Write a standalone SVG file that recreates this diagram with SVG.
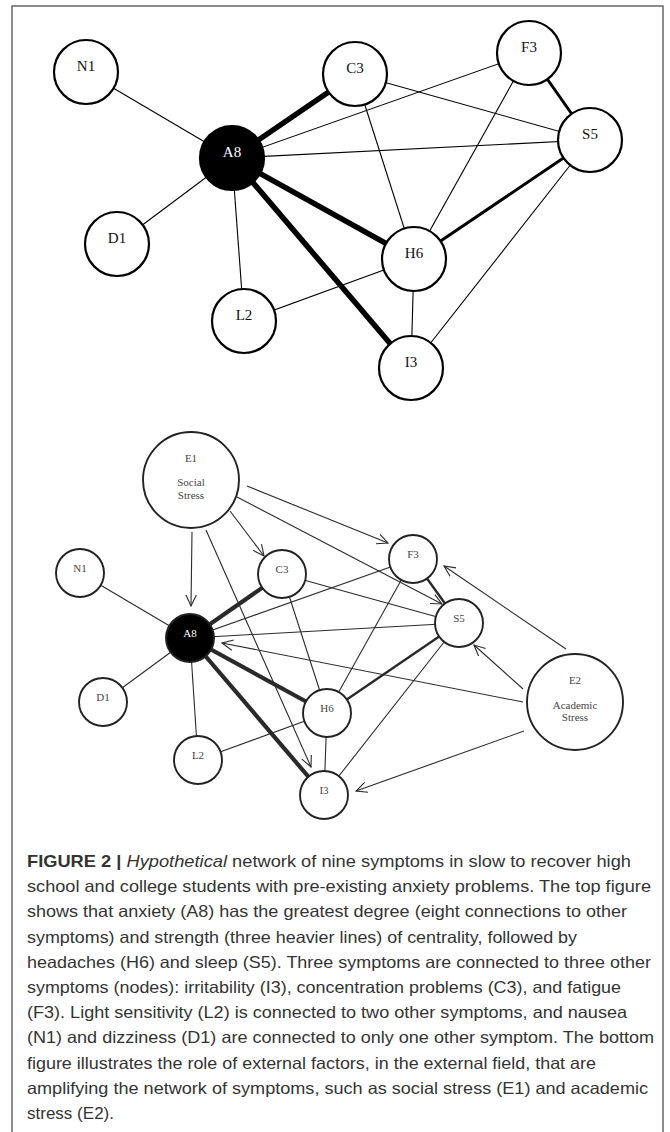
<svg xmlns="http://www.w3.org/2000/svg" width="670" height="1132" viewBox="0 0 670 1132">
<style>
.t1 line{stroke:#000;stroke-linecap:butt}
.thin{stroke-width:1.1}
.med{stroke-width:3}
.thk{stroke-width:5.5}
.n1 circle{fill:#fff;stroke:#000;stroke-width:2.2}
.n1 text{font-family:"Liberation Serif",serif;font-size:15px;text-anchor:middle;fill:#111}
.t2 line{stroke:#2a2a2a}
.thin2{stroke-width:1.1}
.med2{stroke-width:2.4}
.thk2{stroke-width:4.2}
.arw{stroke-width:1.1;marker-end:url(#arr)}
.n2 circle{fill:#fff;stroke:#222;stroke-width:1.9}
.n2 text{font-family:"Liberation Serif",serif;font-size:11px;text-anchor:middle;fill:#444}
.cap{font-family:"Liberation Sans",Arial,sans-serif;font-size:16.5px;fill:#333}
</style>
<defs>
<marker id="arr" markerUnits="userSpaceOnUse" markerWidth="14" markerHeight="14" refX="11" refY="6" orient="auto" viewBox="0 0 14 12">
<path d="M0,0.8 L11,6 L0,11.2" fill="none" stroke="#2a2a2a" stroke-width="1.1"/>
</marker>
</defs>
<rect width="670" height="1132" fill="#fff"/>
<path d="M12,1134 V6 H663 V1134" fill="none" stroke="#666" stroke-width="1.5"/>

<!-- TOP DIAGRAM -->
<g id="top-connectors" class="t1">
<line class="thin" x1="232" y1="158" x2="86" y2="72"/>
<line class="thin" x1="232" y1="158" x2="117" y2="244"/>
<line class="thin" x1="232" y1="158" x2="244" y2="321"/>
<line class="thk" x1="232" y1="158" x2="355" y2="74"/>
<line class="thin" x1="232" y1="158" x2="529" y2="53"/>
<line class="thin" x1="232" y1="158" x2="590" y2="140"/>
<line class="thk" x1="232" y1="158" x2="414" y2="259"/>
<line class="thk" x1="232" y1="158" x2="411" y2="368"/>
<line class="thin" x1="355" y1="74" x2="590" y2="140"/>
<line class="thin" x1="355" y1="74" x2="414" y2="259"/>
<line class="med" x1="529" y1="53" x2="590" y2="140"/>
<line class="thin" x1="529" y1="53" x2="414" y2="259"/>
<line class="med" x1="590" y1="140" x2="414" y2="259"/>
<line class="thin" x1="590" y1="140" x2="411" y2="368"/>
<line class="thin" x1="414" y1="259" x2="244" y2="321"/>
<line class="thin" x1="414" y1="259" x2="411" y2="368"/>
</g>
<g id="top-N1" class="n1"><circle cx="86" cy="72" r="32"/><text x="86" y="71">N1</text></g>
<g id="top-A8" class="n1"><circle cx="232" cy="158" r="32" fill="#000" style="fill:#000"/><text x="232" y="157" style="fill:#fff">A8</text></g>
<g id="top-C3" class="n1"><circle cx="355" cy="74" r="32"/><text x="355" y="73">C3</text></g>
<g id="top-F3" class="n1"><circle cx="529" cy="53" r="32"/><text x="529" y="52">F3</text></g>
<g id="top-S5" class="n1"><circle cx="590" cy="140" r="32"/><text x="590" y="139">S5</text></g>
<g id="top-D1" class="n1"><circle cx="117" cy="244" r="32"/><text x="117" y="243">D1</text></g>
<g id="top-L2" class="n1"><circle cx="244" cy="321" r="32"/><text x="244" y="320">L2</text></g>
<g id="top-H6" class="n1"><circle cx="414" cy="259" r="32"/><text x="414" y="258">H6</text></g>
<g id="top-I3" class="n1"><circle cx="411" cy="368" r="32"/><text x="411" y="367">I3</text></g>

<!-- BOTTOM DIAGRAM -->
<g id="bottom-connectors" class="t2">
<line class="thin2" x1="190" y1="638" x2="80" y2="573"/>
<line class="thin2" x1="190" y1="638" x2="103" y2="702"/>
<line class="thin2" x1="190" y1="638" x2="198" y2="760"/>
<line class="thk2" x1="190" y1="638" x2="282" y2="574"/>
<line class="thin2" x1="190" y1="638" x2="413" y2="559"/>
<line class="thin2" x1="190" y1="638" x2="459" y2="623"/>
<line class="thk2" x1="190" y1="638" x2="327" y2="713"/>
<line class="thk2" x1="190" y1="638" x2="324" y2="795"/>
<line class="thin2" x1="282" y1="574" x2="459" y2="623"/>
<line class="thin2" x1="282" y1="574" x2="327" y2="713"/>
<line class="med2" x1="413" y1="559" x2="459" y2="623"/>
<line class="thin2" x1="413" y1="559" x2="327" y2="713"/>
<line class="med2" x1="459" y1="623" x2="327" y2="713"/>
<line class="thin2" x1="459" y1="623" x2="324" y2="795"/>
<line class="thin2" x1="327" y1="713" x2="198" y2="760"/>
<line class="thin2" x1="327" y1="713" x2="324" y2="795"/>
<line class="arw" x1="192" y1="532" x2="191" y2="606"/>
<line class="arw" x1="230" y1="511" x2="264" y2="556"/>
<line class="arw" x1="206" y1="530" x2="311" y2="767"/>
<line class="arw" x1="237" y1="497" x2="442" y2="604"/>
<line class="arw" x1="247" y1="486" x2="388" y2="543"/>
<line class="arw" x1="566" y1="649" x2="444" y2="566"/>
<line class="arw" x1="523" y1="689" x2="474" y2="645"/>
<line class="arw" x1="523" y1="702" x2="222" y2="643"/>
<line class="arw" x1="524" y1="731" x2="356" y2="791"/>
</g>
<g id="bot-E1" class="n2"><circle cx="191" cy="480" r="48"/><text x="191" y="462">E1</text><text x="191" y="486">Social</text><text x="191" y="499">Stress</text></g>
<g id="bot-E2" class="n2"><circle cx="575" cy="702" r="48"/><text x="575" y="684">E2</text><text x="575" y="709">Academic</text><text x="575" y="721">Stress</text></g>
<g id="bot-N1" class="n2"><circle cx="80" cy="573" r="24"/><text x="80" y="572">N1</text></g>
<g id="bot-A8" class="n2"><circle cx="190" cy="638" r="24" style="fill:#000"/><text x="190" y="637" style="fill:#fff">A8</text></g>
<g id="bot-C3" class="n2"><circle cx="282" cy="574" r="24"/><text x="282" y="573">C3</text></g>
<g id="bot-F3" class="n2"><circle cx="413" cy="559" r="24"/><text x="413" y="558">F3</text></g>
<g id="bot-S5" class="n2"><circle cx="459" cy="623" r="24"/><text x="459" y="622">S5</text></g>
<g id="bot-D1" class="n2"><circle cx="103" cy="702" r="24"/><text x="103" y="701">D1</text></g>
<g id="bot-L2" class="n2"><circle cx="198" cy="760" r="24"/><text x="198" y="759">L2</text></g>
<g id="bot-H6" class="n2"><circle cx="327" cy="713" r="24"/><text x="327" y="712">H6</text></g>
<g id="bot-I3" class="n2"><circle cx="324" cy="795" r="24"/><text x="324" y="794">I3</text></g>

<!-- CAPTION -->
<g id="caption" class="cap">
<text x="27" y="867" textLength="604" lengthAdjust="spacingAndGlyphs"><tspan font-weight="bold">FIGURE 2 |</tspan> <tspan font-style="italic">Hypothetical</tspan> network of nine symptoms in slow to recover high</text>
<text x="27" y="892.2" textLength="624" lengthAdjust="spacingAndGlyphs">school and college students with pre-existing anxiety problems. The top figure</text>
<text x="27" y="917.4" textLength="600" lengthAdjust="spacingAndGlyphs">shows that anxiety (A8) has the greatest degree (eight connections to other</text>
<text x="27" y="942.6" textLength="550" lengthAdjust="spacingAndGlyphs">symptoms) and strength (three heavier lines) of centrality, followed by</text>
<text x="27" y="967.8" textLength="624" lengthAdjust="spacingAndGlyphs">headaches (H6) and sleep (S5). Three symptoms are connected to three other</text>
<text x="27" y="993" textLength="594" lengthAdjust="spacingAndGlyphs">symptoms (nodes): irritability (I3), concentration problems (C3), and fatigue</text>
<text x="27" y="1018.2" textLength="600" lengthAdjust="spacingAndGlyphs">(F3). Light sensitivity (L2) is connected to two other symptoms, and nausea</text>
<text x="27" y="1043.4" textLength="627" lengthAdjust="spacingAndGlyphs">(N1) and dizziness (D1) are connected to only one other symptom. The bottom</text>
<text x="27" y="1068.6" textLength="569" lengthAdjust="spacingAndGlyphs">figure illustrates the role of external factors, in the external field, that are</text>
<text x="27" y="1093.8" textLength="621" lengthAdjust="spacingAndGlyphs">amplifying the network of symptoms, such as social stress (E1) and academic</text>
<text x="27" y="1119" textLength="87" lengthAdjust="spacingAndGlyphs">stress (E2).</text>
</g>
</svg>
